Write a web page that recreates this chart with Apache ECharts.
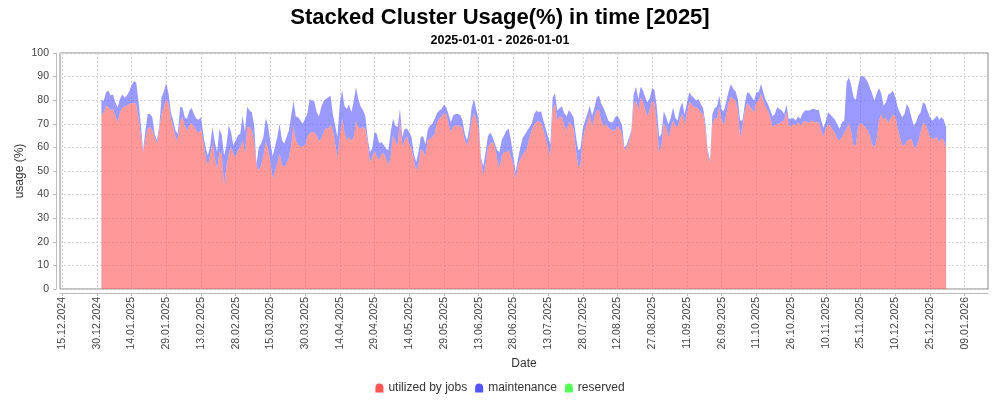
<!DOCTYPE html>
<html>
<head>
<meta charset="utf-8">
<script src="https://cdn.jsdelivr.net/npm/echarts@6/dist/echarts.min.js"></script>
<style>
html,body{margin:0;padding:0;background:#fff;}
#chart{width:1000px;height:400px;}
</style>
</head>
<body>
<div id="chart"></div>
<script>
// Daily values, 2025-01-01 .. 2026-01-01 (366 days)
const startDate = Date.UTC(2025, 0, 1);
const DAY = 86400000;
const utilized = [
73.5,74.9,77.7,77.0,75.9,76.3,73.5,70.7,74.9,76.7,77.3,77.7,78.4,78.7,78.9,78.4,72.8,65.8,58.0,63.7,
67.9,68.6,67.2,64.4,61.6,67.9,74.2,77.0,80.5,78.4,72.1,68.6,64.4,63.0,71.4,72.8,69.3,67.2,69.3,70.3,
68.9,67.2,66.1,67.9,63.0,56.6,52.4,56.6,62.3,55.2,51.0,58.0,57.3,44.0,51.7,57.3,60.2,57.3,55.9,58.8,
60.2,63.0,57.6,68.6,68.6,67.2,62.3,52.4,50.3,52.4,56.6,62.3,59.4,53.8,46.8,50.0,53.4,57.3,52.8,51.7,
53.4,55.7,60.9,69.3,62.7,61.3,60.2,60.4,60.9,64.4,66.1,66.5,66.3,65.1,62.7,63.7,66.5,68.3,67.9,69.7,
67.2,61.8,55.7,64.7,72.1,66.5,63.2,64.4,62.7,64.4,71.1,68.6,67.9,68.6,67.9,62.3,53.8,55.7,58.5,56.2,
54.8,57.1,57.5,55.2,52.4,56.6,65.1,62.7,60.9,71.7,60.4,63.2,64.7,61.3,59.3,54.8,50.3,52.8,59.3,58.5,
56.2,63.2,63.7,64.4,65.8,70.7,72.1,73.1,74.5,73.9,70.0,66.5,68.9,69.3,69.3,69.2,67.9,63.0,60.9,64.4,
71.4,74.5,72.1,67.9,54.5,48.2,52.8,59.9,61.6,62.3,60.2,54.8,51.4,56.6,58.0,58.0,58.8,55.7,52.8,46.8,
52.4,55.0,57.0,58.0,60.2,64.4,67.2,69.7,70.7,71.1,70.3,67.5,63.7,60.2,56.6,76.3,78.4,71.4,73.1,72.8,
69.3,67.2,70.7,69.7,67.9,59.4,52.0,52.4,63.7,67.9,70.3,73.9,68.9,72.8,75.6,75.9,71.4,68.9,70.0,68.3,
67.7,67.2,67.2,69.2,67.7,65.5,58.8,60.4,62.3,66.5,78.4,79.6,75.9,81.0,79.1,75.9,73.1,76.3,79.8,78.7,
70.0,58.0,60.9,70.3,68.6,64.4,67.9,71.4,69.3,68.6,72.1,74.2,70.0,74.5,79.1,78.4,77.0,77.0,76.3,74.9,
74.2,67.9,57.3,53.4,70.0,72.5,72.1,77.3,71.4,69.7,74.2,79.1,81.5,80.5,79.8,75.9,64.4,68.6,75.6,78.7,
77.7,76.3,74.9,79.1,79.8,82.7,80.1,77.0,75.6,72.8,68.9,69.3,70.0,70.0,71.1,71.4,75.3,69.7,68.9,70.0,
69.3,70.7,69.3,70.7,71.1,70.7,70.7,71.4,70.7,70.7,70.7,67.2,64.7,67.9,70.0,68.9,67.5,66.1,63.7,63.0,
64.4,66.5,67.9,70.3,66.5,60.9,60.9,68.9,70.3,69.7,68.6,67.5,65.1,61.3,59.9,63.7,71.4,74.2,71.7,72.8,
70.3,72.1,73.9,73.1,68.9,64.4,60.9,60.9,62.7,63.2,63.7,60.4,59.9,62.7,66.5,70.3,70.0,67.5,64.4,63.7,
63.7,64.4,62.3,63.7,63.2,59.5
];
const maintenance = [
6.6,4.9,5.7,7.1,6.1,6.1,5.6,6.3,5.6,5.7,3.7,4.3,5.4,7.5,9.1,9.2,7.0,4.2,0.8,3.5,
6.3,5.6,5.6,1.4,1.4,1.4,7.0,6.8,6.7,4.3,2.8,2.8,2.8,2.8,5.6,4.2,3.5,4.9,6.3,6.4,
5.3,4.9,5.6,4.9,2.8,3.6,4.2,4.3,6.3,7.1,7.0,9.9,7.8,12.6,9.2,12.0,6.3,3.6,7.1,6.3,
5.6,10.5,8.9,8.7,7.0,7.7,7.0,0.7,9.9,9.2,7.8,10.2,9.9,8.5,9.4,10.4,11.0,12.7,10.2,9.9,
11.0,11.5,12.6,10.5,10.4,11.5,11.2,9.6,11.2,10.1,14.4,13.3,13.3,9.8,10.4,13.3,13.1,12.2,13.3,12.3,
7.0,7.5,8.7,13.7,12.2,11.2,13.1,13.8,12.2,15.2,14.4,11.9,9.4,7.3,5.6,2.1,4.2,3.7,8.0,9.6,
7.0,5.2,3.5,4.2,6.4,9.9,7.0,6.6,7.7,4.6,4.0,4.7,3.2,5.2,5.1,2.5,3.5,5.2,5.1,6.2,
5.1,4.3,5.6,5.6,6.3,3.8,3.5,3.2,3.7,3.1,3.9,4.2,4.6,4.9,4.9,4.6,3.8,2.8,2.1,3.9,
5.6,6.0,3.8,3.8,1.2,3.8,5.2,4.8,4.7,2.1,1.4,4.0,6.6,6.6,7.1,9.2,9.1,7.0,3.1,2.8,
2.8,5.0,7.0,7.5,7.0,4.2,3.1,4.5,4.9,3.8,5.0,3.9,4.2,4.2,4.7,4.9,4.5,4.2,3.6,4.5,
5.2,5.9,5.2,4.8,4.9,5.7,6.8,7.0,4.2,3.5,3.9,3.8,4.6,3.9,5.4,6.1,7.0,7.8,4.2,3.1,
3.0,3.5,5.6,4.3,4.0,3.8,1.1,0.9,1.8,1.0,4.0,6.1,4.6,4.7,5.0,5.1,6.0,4.7,5.4,5.6,
7.0,6.4,4.9,5.0,4.4,5.3,4.6,5.6,3.2,2.8,4.6,4.9,3.9,4.2,4.3,3.6,4.0,2.8,4.2,3.5,
2.5,2.1,1.5,1.1,4.2,4.2,5.2,4.7,4.2,5.9,5.4,4.7,5.4,4.3,4.0,4.6,7.0,2.8,2.8,4.7,
5.2,4.9,4.9,4.3,3.6,4.2,3.3,3.1,2.8,3.1,4.2,4.9,7.0,6.3,4.5,2.8,2.9,2.4,3.2,2.5,
2.1,2.4,2.8,3.8,4.5,4.9,4.9,4.9,5.6,5.2,5.2,4.2,3.6,3.2,4.9,5.0,5.3,5.6,6.0,4.9,
6.3,4.9,19.7,19.4,19.7,20.3,19.2,17.3,19.7,20.7,20.8,20.5,20.4,21.6,19.9,19.2,13.8,8.5,6.0,6.3,
12.1,10.8,10.2,8.4,8.4,10.5,11.9,13.3,15.7,13.5,9.1,8.9,10.8,10.8,8.4,8.8,8.4,7.8,8.4,7.7,
8.4,9.1,9.4,9.1,8.5,8.8
];
const reserved = []; // no reserved capacity in this period
const seriesNames = ['utilized by jobs', 'maintenance', 'reserved'];
const seriesColors = ['#FF5555', '#5555FF', '#55FF55'];
// Tick dates: every 15 days from 15.12.2024 to 09.01.2026, as day offsets from 2025-01-01
const tickDays = [-17,-2,13,28,43,58,73,88,103,118,133,148,163,178,193,208,223,238,253,268,283,298,313,328,343,358,373];
const axisMinDay = -17.9, axisMaxDay = 383.1;

function fmtDay(d) {
  const t = new Date(startDate + Math.round(d) * DAY);
  const dd = String(t.getUTCDate()).padStart(2, '0');
  const mm = String(t.getUTCMonth() + 1).padStart(2, '0');
  return dd + '.' + mm + '.' + t.getUTCFullYear();
}
// [value, dayIndex]: value first so that stacking applies to the y dimension
function rows(arr) { return arr.map((v, i) => [v, i]); }

const chart = echarts.init(document.getElementById('chart'), null, {renderer: 'canvas'});
const font = 'Liberation Sans, Arial, sans-serif';
const gridLine = {show: true, lineStyle: {color: '#d4d4d4', width: 1, type: [2, 2]}};
function areaSeries(k, arr) {
  return {name: seriesNames[k], type: 'line', stack: 'usage', data: rows(arr), encode: {x: 1, y: 0},
    showSymbol: false, color: seriesColors[k], lineStyle: {width: 0},
    areaStyle: {color: seriesColors[k], opacity: 0.6}};
}
chart.setOption({
  animation: false,
  backgroundColor: '#ffffff',
  title: [
    {text: 'Stacked Cluster Usage(%) in time [2025]', left: 'center', top: 2,
     textStyle: {fontFamily: font, fontWeight: 'bold', fontSize: 22, color: '#000'}},
    {text: '2025-01-01 - 2026-01-01', left: 'center', top: 29,
     textStyle: {fontFamily: font, fontWeight: 'bold', fontSize: 12.5, color: '#000'}}
  ],
  legend: {
    bottom: 1, left: 'center', itemWidth: 8, itemHeight: 9, itemGap: 8,
    icon: 'path://M0,4 A4,4 0 0 1 8,4 L8,9 L0,9 Z',
    textStyle: {fontFamily: font, fontSize: 12, color: '#333'},
    data: seriesNames
  },
  grid: {left: 60, right: 12, top: 53, bottom: 111, show: true, borderColor: '#888', borderWidth: 1, backgroundColor: '#fff'},
  xAxis: {
    type: 'value', min: axisMinDay, max: axisMaxDay, offset: 4,
    name: 'Date', nameLocation: 'middle', nameGap: 61,
    nameTextStyle: {fontFamily: font, fontSize: 12, color: '#333'},
    axisLine: {show: true, onZero: false, lineStyle: {color: '#bbb'}},
    axisTick: {show: true, length: 3, lineStyle: {color: '#bbb'}, customValues: tickDays},
    axisLabel: {rotate: 90, fontFamily: font, fontSize: 10.5, color: '#444', margin: 4,
                customValues: tickDays, formatter: fmtDay},
    splitLine: gridLine
  },
  yAxis: {
    type: 'value', min: 0, max: 100, interval: 10, offset: 4,
    name: 'usage (%)', nameLocation: 'middle', nameGap: 30, nameRotate: 90, nameMoveOverlap: false,
    nameTextStyle: {fontFamily: font, fontSize: 12, color: '#333'},
    axisLine: {show: true, onZero: false, lineStyle: {color: '#bbb'}},
    axisTick: {show: true, length: 3, lineStyle: {color: '#bbb'}},
    axisLabel: {fontFamily: font, fontSize: 10.5, color: '#444', margin: 7},
    splitLine: gridLine
  },
  series: [areaSeries(0, utilized), areaSeries(1, maintenance), areaSeries(2, reserved)]
});
</script>
</body>
</html>
